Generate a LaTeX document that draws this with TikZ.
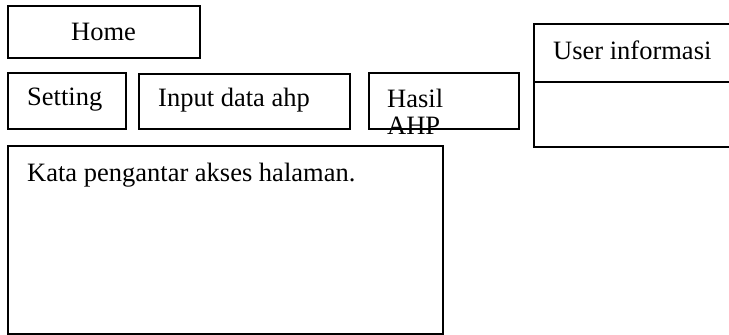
\documentclass[tikz,border=0pt]{standalone}
\usepackage{fontspec}
\setmainfont{Liberation Serif}
\begin{document}
\begin{tikzpicture}[x=1pt,y=-1pt,
  box/.style={draw=black,line width=1.5pt,rectangle,inner sep=0pt,anchor=north west},
  lbl/.style={inner sep=0pt,anchor=base west,font=\fontsize{26.5}{30}\selectfont}]
\useasboundingbox (0,0) rectangle (729,335);
\fill[white] (0,0) rectangle (729,335);
\begin{scope}
\clip (0,0) rectangle (729,335);
% boxes
\node[box,minimum width=192pt,minimum height=52pt] (home) at (7,5) {};
\node[box,minimum width=118pt,minimum height=56pt] (setting) at (7,72) {};
\node[box,minimum width=211pt,minimum height=55pt] (input) at (138,73) {};
\node[box,minimum width=150pt,minimum height=56pt] (hasil) at (368,72) {};
\node[box,minimum width=210pt,minimum height=123pt] (user) at (533,23) {};
\node[box,minimum width=435pt,minimum height=188pt] (kata) at (7,145) {};
\coordinate (dl) at (533,82);
\coordinate (dr) at (743,82);
\draw[line width=1.5pt] (dl) -- (dr);
% labels
\node[lbl] (thome) at (71,40) {Home};
\node[lbl] (tsetting) at (27,105.5) {Setting};
\node[lbl] (tinput) at (158,106) {Input data ahp};
\node[lbl] (thasil) at (387,107.5) {Hasil};
\node[lbl] (tahp) at (387,134) {AHP};
\node[lbl] (tuser) at (553,59) {User informasi};
\node[lbl] (tkata) at (27,181) {Kata pengantar akses halaman.};
\end{scope}
\end{tikzpicture}
\end{document}
